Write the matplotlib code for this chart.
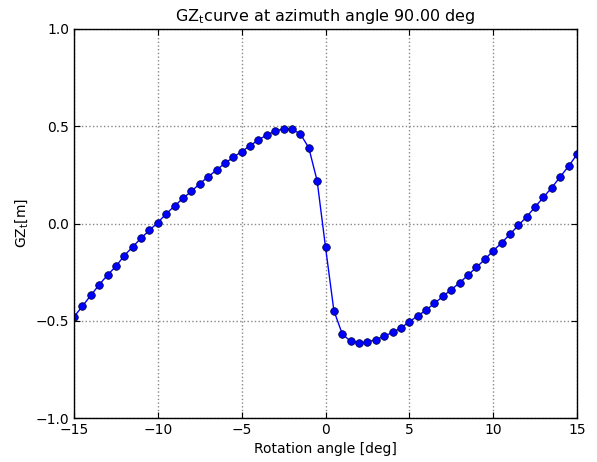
import numpy as np
import matplotlib
matplotlib.use('Agg')
import matplotlib.pyplot as plt

# rotation angles and GZ_t values
angles = np.arange(-15, 15.01, 0.5)
gz = [-0.48, -0.425, -0.37, -0.315, -0.265, -0.22, -0.165, -0.12, -0.075, -0.035,
      0.005, 0.05, 0.09, 0.13, 0.165, 0.205, 0.24, 0.275, 0.31, 0.34,
      0.37, 0.40, 0.43, 0.455, 0.475, 0.487, 0.485, 0.46, 0.39, 0.22,
      -0.121, -0.448, -0.568, -0.606, -0.614, -0.609, -0.597, -0.58, -0.56, -0.537,
      -0.505, -0.475, -0.445, -0.41, -0.375, -0.34, -0.305, -0.265, -0.225, -0.185,
      -0.14, -0.10, -0.055, -0.01, 0.035, 0.085, 0.135, 0.185, 0.24, 0.295, 0.355]

plt.rcParams['font.size'] = 10
plt.rcParams['mathtext.default'] = 'regular'
fig = plt.figure(figsize=(5.97, 4.62), dpi=100)
ax = fig.add_axes([74/597, 1-418/462, (577-74)/597, (418-29)/462])

ax.plot(angles, gz, '-o', color='blue', lw=1, ms=5.5, mfc='blue', mec='#000033', mew=0.5)

ax.set_xlim(-15, 15)
ax.set_ylim(-1.0, 1.0)
ax.set_xticks([-15, -10, -5, 0, 5, 10, 15])
ax.set_yticks([-1.0, -0.5, 0.0, 0.5, 1.0])
ax.grid(True, linestyle=':', color='#888888', lw=1)
ax.tick_params(direction='in', top=True, right=True, length=4)
for s in ax.spines.values():
    s.set_linewidth(1)

ax.set_xlabel('Rotation angle [deg]')
ax.set_ylabel('GZ$_t$[m]')
ax.set_title('GZ$_t$curve at azimuth angle 90.00 deg', fontsize=11.5)

fig.savefig('out.png', dpi=100, facecolor='white')
